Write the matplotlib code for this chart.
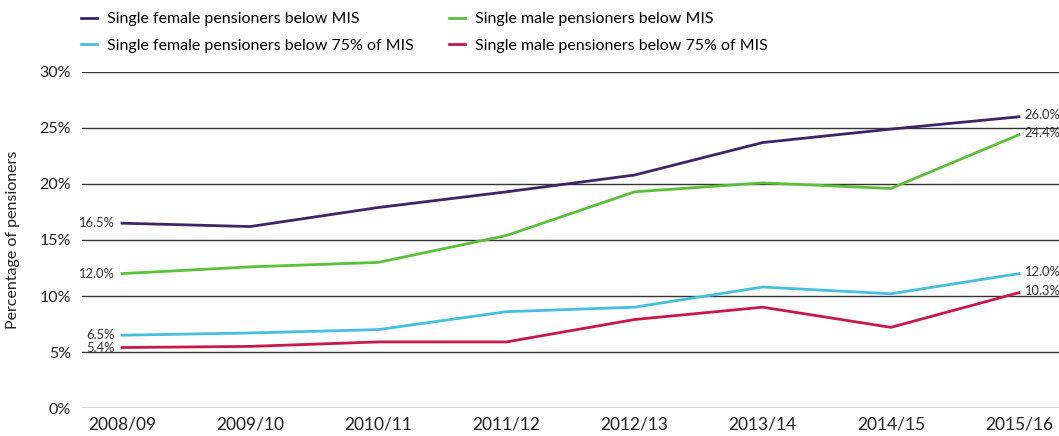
import matplotlib.pyplot as plt

plt.rcParams['font.family'] = ['Lato', 'DejaVu Sans']

years = ['2008/09', '2009/10', '2010/11', '2011/12', '2012/13', '2013/14', '2014/15', '2015/16']

female_mis = [16.5, 16.2, 17.9, 19.3, 20.8, 23.7, 24.9, 26.0]
male_mis = [12.0, 12.6, 13.0, 15.4, 19.3, 20.1, 19.6, 24.4]
female_75 = [6.5, 6.7, 7.0, 8.6, 9.0, 10.8, 10.2, 12.0]
male_75 = [5.4, 5.5, 5.9, 5.9, 7.9, 9.0, 7.2, 10.3]

series = [
    ('Single female pensioners below MIS', female_mis, '#3d2566'),
    ('Single female pensioners below 75% of MIS', female_75, '#45bfdc'),
    ('Single male pensioners below MIS', male_mis, '#5bbf3a'),
    ('Single male pensioners below 75% of MIS', male_75, '#c8174a'),
]

fig = plt.figure(figsize=(10.59, 4.36), dpi=100)
ax = fig.add_axes([0.0774, 0.0642, 0.9226, 0.7707])

x = list(range(len(years)))
handles = []
for name, vals, col in series:
    h, = ax.plot(x, vals, color=col, lw=2, label=name, zorder=3)
    handles.append(h)
    ax.annotate(f'{vals[0]:.1f}%', (x[0], vals[0]), xytext=(-5, 0), textcoords='offset points',
                ha='right', va='center', fontsize=9.3, color='#333333')
    ax.annotate(f'{vals[-1]:.1f}%', (x[-1], vals[-1]), xytext=(4, 1), textcoords='offset points',
                ha='left', va='center', fontsize=9.3, color='#333333')

ax.set_xlim(-0.312, 7.312)
ax.set_ylim(0, 30)
ax.set_yticks(range(0, 31, 5))
ax.set_yticklabels([f'{v}%' for v in range(0, 31, 5)])
ax.set_xticks(x)
ax.set_xticklabels(years)
ax.grid(axis='y', color='#333333', lw=1)
ax.set_axisbelow(True)
for s in ax.spines.values():
    s.set_visible(False)
ax.tick_params(length=0, labelsize=11.5, colors='#222222')
ax.tick_params(axis='x', labelsize=12.5)
ax.tick_params(axis='y', pad=8)
ax.tick_params(axis='x', pad=6)
ax.set_ylabel('Percentage of pensioners', fontsize=11.5, color='#222222', labelpad=14)

fig.legend(handles=handles, loc='upper left', bbox_to_anchor=(0.063, 1.005), ncol=2,
           frameon=False, fontsize=11.5, handlelength=1.0, columnspacing=2.2,
           labelspacing=0.75, handletextpad=0.62)

fig.savefig('out.png', dpi=100)
